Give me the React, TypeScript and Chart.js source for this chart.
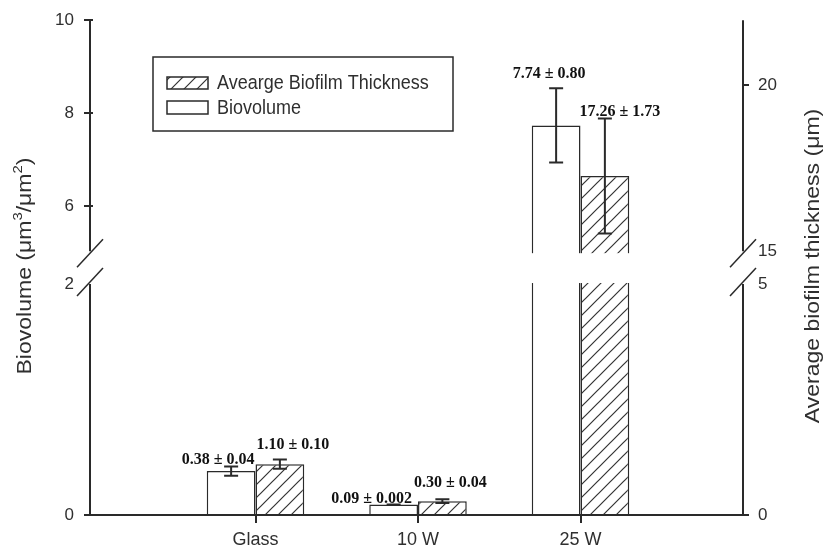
import React, { useEffect, useRef } from 'react';
import { Chart, registerables } from 'chart.js';

Chart.register(...registerables);

// ---------------- data ----------------
const categories = ['Glass', '10 W', '25 W'];
const biovolume = [0.38, 0.09, 7.74];
const biovolumeErr = [0.04, 0.002, 0.8];
const thickness = [1.1, 0.3, 17.26];
const thicknessErr = [0.1, 0.04, 1.73];
const biovolumeText = ['0.38 ± 0.04', '0.09 ± 0.002', '7.74 ± 0.80'];
const thicknessText = ['1.10 ± 0.10', '0.30 ± 0.04', '17.26 ± 1.73'];
const leftTicks = [0, 2, 6, 8, 10];
const rightTicks = [0, 5, 15, 20];
const leftTicksNoMark = [2];
const rightTicksNoMark = [5, 15];
const seriesNames = ['Biovolume', 'Avearge Biofilm Thickness'];
const rightTitle = 'Average biofilm thickness (μm)';

// ---------------- layout / styles ----------------
const LINE = '#2a2a2a';
const TEXT = '#2f2f2f';
const SANS = '"Liberation Sans", Arial, sans-serif';
const SERIF = '"Liberation Serif", "Times New Roman", serif';
const AXIS_INSET = 3; // left axis line sits a little left of where the x axis begins

// broken-axis: virtual linear scale (0..V_MAX)
const V_MAX = 497;
const V_LOW_TOP = 232;
const V_HIGH_BOTTOM = 265;
const leftMap = (v: number) => (v <= 2 ? v * 116 : 310 + (v - 6) * 46.75);
const rightMap = (v: number) => (v <= 5 ? v * 46.4 : 265 + (v - 15) * 33.4);

const bioLabelShift = [[-13, -7], [-22, -6], [-7, -14]];
const thkLabelShift = [[13, -15], [8, -16], [15, -7]];

function makeHatch(): CanvasPattern | string {
  const s = 13;
  const c = document.createElement('canvas');
  c.width = s;
  c.height = s;
  const g = c.getContext('2d');
  if (!g) return '#fff';
  g.fillStyle = '#ffffff';
  g.fillRect(0, 0, s, s);
  g.strokeStyle = '#333333';
  g.lineWidth = 1.2;
  g.beginPath();
  g.moveTo(0, s);
  g.lineTo(s, 0);
  g.moveTo(-2, 2);
  g.lineTo(2, -2);
  g.moveTo(s - 2, s + 2);
  g.lineTo(s + 2, s - 2);
  g.stroke();
  return g.createPattern(c, 'repeat') || '#fff';
}

const pad = (arr: number[]) => [null, ...arr, null];

export default function App() {
  const ref = useRef<HTMLCanvasElement | null>(null);

  useEffect(() => {
    if (!ref.current) return;
    const hatch = makeHatch();

    const overlay = {
      id: 'overlay',
      afterDatasetsDraw(chart: any) {
        const { ctx, chartArea: ca, scales } = chart;
        const ys = scales.y;
        const pHigh = ys.getPixelForValue(V_HIGH_BOTTOM);
        const pLow = ys.getPixelForValue(V_LOW_TOP);
        ctx.save();
        // break gap
        ctx.fillStyle = '#ffffff';
        ctx.fillRect(ca.left + 2, pHigh + 2, ca.right - ca.left - 4, pLow - pHigh - 3);

        const drawSeries = (idx: number, vals: number[], errs: number[], map: (v: number) => number, scale: any, texts: string[], shifts: number[][]) => {
          const meta = chart.getDatasetMeta(idx);
          vals.forEach((v, k) => {
            const el = meta.data[k + 1];
            if (!el) return;
            const x = el.x;
            const yT = scale.getPixelForValue(map(v + errs[k]));
            const yB = scale.getPixelForValue(map(v - errs[k]));
            ctx.strokeStyle = LINE;
            ctx.lineWidth = 2;
            ctx.beginPath();
            ctx.moveTo(x, yT);
            ctx.lineTo(x, yB);
            ctx.moveTo(x - 7, yT);
            ctx.lineTo(x + 7, yT);
            ctx.moveTo(x - 7, yB);
            ctx.lineTo(x + 7, yB);
            ctx.stroke();
            ctx.fillStyle = '#111';
            ctx.font = `bold 16px ${SERIF}`;
            ctx.textAlign = 'center';
            ctx.textBaseline = 'middle';
            ctx.fillText(texts[k], x + shifts[k][0], yT + shifts[k][1]);
          });
        };
        drawSeries(0, biovolume, biovolumeErr, leftMap, scales.y, biovolumeText, bioLabelShift);
        drawSeries(1, thickness, thicknessErr, rightMap, scales.y2, thicknessText, thkLabelShift);
        ctx.restore();
      },
      afterDraw(chart: any) {
        const { ctx, chartArea: ca, scales } = chart;
        const ys = scales.y;
        const pHigh = ys.getPixelForValue(V_HIGH_BOTTOM);
        const pLow = ys.getPixelForValue(V_LOW_TOP);
        ctx.save();
        ctx.strokeStyle = LINE;
        for (const x of [ca.left - AXIS_INSET, ca.right]) {
          ctx.lineWidth = 2;
          ctx.beginPath();
          ctx.moveTo(x, ca.top);
          ctx.lineTo(x, pHigh);
          ctx.moveTo(x, pLow);
          ctx.lineTo(x, ca.bottom + 1);
          ctx.stroke();
          ctx.lineWidth = 1.5;
          for (const cy of [pHigh + 2, pLow - 2]) {
            ctx.beginPath();
            ctx.moveTo(x - 13, cy + 14);
            ctx.lineTo(x + 13, cy - 14);
            ctx.stroke();
          }
        }

        // legend
        ctx.lineWidth = 1.5;
        ctx.strokeStyle = LINE;
        ctx.strokeRect(153, 57, 300, 74);
        ctx.fillStyle = hatch as any;
        ctx.fillRect(167, 77, 41, 12);
        ctx.strokeRect(167, 77, 41, 12);
        ctx.fillStyle = '#fff';
        ctx.fillRect(167, 101, 41, 13);
        ctx.strokeRect(167, 101, 41, 13);
        ctx.fillStyle = TEXT;
        ctx.font = `18px ${SANS}`;
        ctx.textAlign = 'left';
        ctx.textBaseline = 'middle';
        const legendRows: [string, number][] = [[seriesNames[1], 83], [seriesNames[0], 108]];
        for (const [t, y] of legendRows) {
          ctx.save();
          ctx.translate(217, y);
          ctx.scale(1, 1.15);
          ctx.fillText(t, 0, 0);
          ctx.restore();
        }

        // left title with superscripts
        ctx.save();
        ctx.translate(25, 266);
        ctx.rotate(-Math.PI / 2);
        ctx.scale(1.15, 1);
        const pieces: [string, boolean][] = [['Biovolume (μm', false], ['3', true], ['/μm', false], ['2', true], [')', false]];
        const fontFor = (sup: boolean) => (sup ? `13px ${SANS}` : `20px ${SANS}`);
        let total = 0;
        for (const [t, sup] of pieces) {
          ctx.font = fontFor(sup);
          total += ctx.measureText(t).width;
        }
        let cx = -total / 2;
        ctx.textAlign = 'left';
        ctx.textBaseline = 'middle';
        for (const [t, sup] of pieces) {
          ctx.font = fontFor(sup);
          ctx.fillText(t, cx, sup ? -7 : 0);
          cx += ctx.measureText(t).width;
        }
        ctx.restore();

        // right title
        ctx.save();
        ctx.translate(813, 266);
        ctx.rotate(-Math.PI / 2);
        ctx.scale(1.15, 1);
        ctx.font = `20px ${SANS}`;
        ctx.textAlign = 'center';
        ctx.textBaseline = 'middle';
        ctx.fillText(rightTitle, 0, 0);
        ctx.restore();

        ctx.restore();
      },
    };

    const tickGrid = (noMark: number[], map: (v: number) => number, len: number) => ({
      display: true,
      drawOnChartArea: false,
      drawTicks: true,
      tickLength: len,
      lineWidth: 2,
      color: (c: any) =>
        c.tick && noMark.some((v) => Math.abs(map(v) - c.tick.value) < 0.01) ? 'rgba(0,0,0,0)' : LINE,
    });

    const chart = new Chart(ref.current, {
      type: 'bar',
      data: {
        labels: ['', ...categories, ''],
        datasets: [
          {
            label: seriesNames[0],
            data: pad(biovolume.map(leftMap)) as any,
            backgroundColor: '#ffffff',
            borderColor: LINE,
            borderWidth: 1.5,
            yAxisID: 'y',
            barPercentage: 1,
            categoryPercentage: 0.6,
          },
          {
            label: seriesNames[1],
            data: pad(thickness.map(rightMap)) as any,
            backgroundColor: hatch as any,
            borderColor: LINE,
            borderWidth: 1.5,
            yAxisID: 'y2',
            barPercentage: 1,
            categoryPercentage: 0.6,
          },
        ],
      },
      options: {
        responsive: false,
        animation: false,
        layout: { padding: { top: 18, left: 0, right: 0, bottom: 0 } },
        plugins: { legend: { display: false }, tooltip: { enabled: false }, title: { display: false } },
        scales: {
          x: {
            type: 'category',
            offset: false,
            grid: { display: true, offset: false, drawOnChartArea: false, drawTicks: true, tickLength: 8, color: LINE, lineWidth: 2 },
            border: { display: true, color: LINE, width: 2 },
            ticks: { color: TEXT, font: { family: SANS, size: 18 }, padding: 6, autoSkip: false, maxRotation: 0 },
            afterBuildTicks: (s: any) => {
              s.ticks = s.ticks.filter((t: any) => t.value >= 1 && t.value <= categories.length);
            },
            afterFit: (s: any) => {
              s.height = 44;
            },
          } as any,
          y: {
            type: 'linear',
            position: 'left',
            min: 0,
            max: V_MAX,
            grid: tickGrid(leftTicksNoMark, leftMap, 6 + AXIS_INSET) as any,
            border: { display: false },
            ticks: {
              color: TEXT,
              font: { family: SANS, size: 17 },
              padding: 10,
              autoSkip: false,
              callback: (_v: any, i: number) => String(leftTicks[i]),
            },
            afterBuildTicks: (s: any) => {
              s.ticks = leftTicks.map((v) => ({ value: leftMap(v) }));
            },
            afterFit: (s: any) => {
              s.width = 90 + AXIS_INSET;
            },
          } as any,
          y2: {
            type: 'linear',
            position: 'right',
            min: 0,
            max: V_MAX,
            grid: tickGrid(rightTicksNoMark, rightMap, 6) as any,
            border: { display: false },
            ticks: {
              color: TEXT,
              font: { family: SANS, size: 17 },
              padding: 9,
              autoSkip: false,
              callback: (_v: any, i: number) => String(rightTicks[i]),
            },
            afterBuildTicks: (s: any) => {
              s.ticks = rightTicks.map((v) => ({ value: rightMap(v) }));
            },
            afterFit: (s: any) => {
              s.width = 90;
            },
          } as any,
        },
      },
      plugins: [overlay],
    });
    return () => chart.destroy();
  }, []);

  return (
    <div style={{ position: 'fixed', left: 0, top: 0, width: 833, height: 559, background: '#fff' }}>
      <canvas ref={ref} width={833} height={559} style={{ width: 833, height: 559, display: 'block' }} />
    </div>
  );
}
